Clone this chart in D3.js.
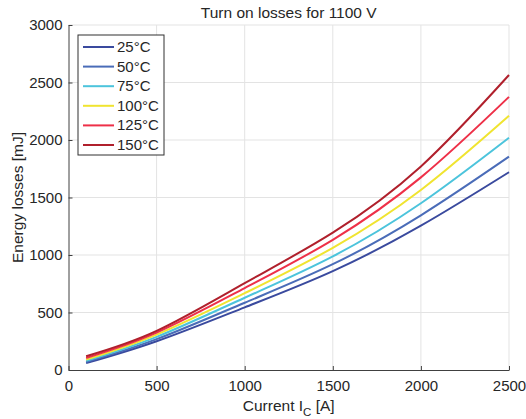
<!DOCTYPE html>
<html>
<head>
<meta charset="utf-8">
<script src="https://cdn.jsdelivr.net/npm/d3@7"></script>
<style>
  body { margin: 0; background: #fff; }
  text { font-family: "Liberation Sans", Arial, sans-serif; fill: #262626; }
</style>
</head>
<body>
<svg id="chart"></svg>
<script>
// data
const current = [100, 500, 1000, 1500, 2000, 2500];
const temps = ["25°C", "50°C", "75°C", "100°C", "125°C", "150°C"];
const loss25 = [60, 250, 545, 860, 1255, 1720];
const loss50 = [70, 268, 585, 920, 1345, 1855];
const loss75 = [80, 288, 628, 988, 1450, 2020];
const loss100 = [90, 308, 668, 1062, 1565, 2210];
const loss125 = [105, 325, 712, 1132, 1675, 2375];
const loss150 = [120, 340, 755, 1195, 1770, 2565];
const xTicks = [0, 500, 1000, 1500, 2000, 2500];
const yTicks = [0, 500, 1000, 1500, 2000, 2500, 3000];

const colors = ["#3a4a9e", "#4a6cb8", "#4cc4dc", "#f0e430", "#ee3048", "#b0202c"];
const series = [loss25, loss50, loss75, loss100, loss125, loss150];

//window setting
const width = 526;
const height = 419;
const svg = d3.select("#chart").attr("width", width).attr("height", height);
const margin = { top: 25, right: 17, bottom: 49, left: 68.5 };
const innerW = width - margin.left - margin.right;
const innerH = height - margin.top - margin.bottom;

const x = d3.scaleLinear().domain([0, 2500]).range([0, innerW]);
const y = d3.scaleLinear().domain([0, 3000]).range([innerH, 0]);

const g = svg.append("g").attr("transform", `translate(${margin.left},${margin.top})`);

//grid
g.append("g")
  .selectAll("line")
  .data(xTicks.slice(1))
  .enter()
  .append("line")
  .attr("x1", (d) => x(d))
  .attr("x2", (d) => x(d))
  .attr("y1", 0)
  .attr("y2", innerH)
  .attr("stroke", "#e3e3e3");
g.append("g")
  .selectAll("line")
  .data(yTicks.slice(1))
  .enter()
  .append("line")
  .attr("x1", 0)
  .attr("x2", innerW)
  .attr("y1", (d) => y(d))
  .attr("y2", (d) => y(d))
  .attr("stroke", "#e3e3e3");

//axes
const fmt = d3.format("d");
const xAxis = g.append("g")
  .attr("transform", `translate(0,${innerH})`)
  .call(d3.axisBottom(x).tickValues(xTicks).tickFormat(fmt).tickSizeInner(-4).tickSizeOuter(0).tickPadding(10));
const yAxis = g.append("g")
  .call(d3.axisLeft(y).tickValues(yTicks).tickFormat(fmt).tickSizeInner(-4).tickSizeOuter(0).tickPadding(6));
[xAxis, yAxis].forEach((a) => {
  a.selectAll("path,line").attr("stroke", "#404040");
  a.selectAll("text").style("font-size", "15px").attr("fill", "#262626")
    .style("font-family", '"Liberation Sans", Arial, sans-serif');
});

//lines
const line = d3.line()
  .x((d) => x(d[0]))
  .y((d) => y(d[1]))
  .curve(d3.curveNatural);
series.forEach((s, i) => {
  g.append("path")
    .datum(current.map((c, j) => [c, s[j]]))
    .attr("fill", "none")
    .attr("stroke", colors[i])
    .attr("stroke-width", 2)
    .attr("d", line);
});

//title and labels
svg.append("text")
  .attr("x", margin.left + innerW / 2)
  .attr("y", 18)
  .attr("text-anchor", "middle")
  .style("font-size", "15.5px")
  .text("Turn on losses for 1100 V");

const xl = svg.append("text")
  .attr("x", margin.left + innerW / 2)
  .attr("y", 411)
  .attr("text-anchor", "middle")
  .style("font-size", "15.5px");
xl.append("tspan").text("Current I");
xl.append("tspan").attr("dy", 5).style("font-size", "11.5px").text("C");
xl.append("tspan").attr("dy", -5).text(" [A]");

svg.append("text")
  .attr("transform", `translate(23,${margin.top + innerH / 2}) rotate(-90)`)
  .attr("text-anchor", "middle")
  .style("font-size", "15.5px")
  .text("Energy losses [mJ]");

//legend
const lgd = svg.append("g").attr("transform", "translate(78,35)");
lgd.append("rect")
  .attr("width", 86)
  .attr("height", 120)
  .attr("fill", "#fff")
  .attr("stroke", "#303030")
  .attr("stroke-width", 1);
const row = d3.scaleLinear().domain([0, 5]).range([12, 110]);
temps.forEach((t, i) => {
  lgd.append("line")
    .attr("x1", 5)
    .attr("x2", 36)
    .attr("y1", row(i))
    .attr("y2", row(i))
    .attr("stroke", colors[i])
    .attr("stroke-width", 2);
  lgd.append("text")
    .attr("x", 39)
    .attr("y", row(i) + 5)
    .style("font-size", "15px")
    .text(t);
});
</script>
</body>
</html>
